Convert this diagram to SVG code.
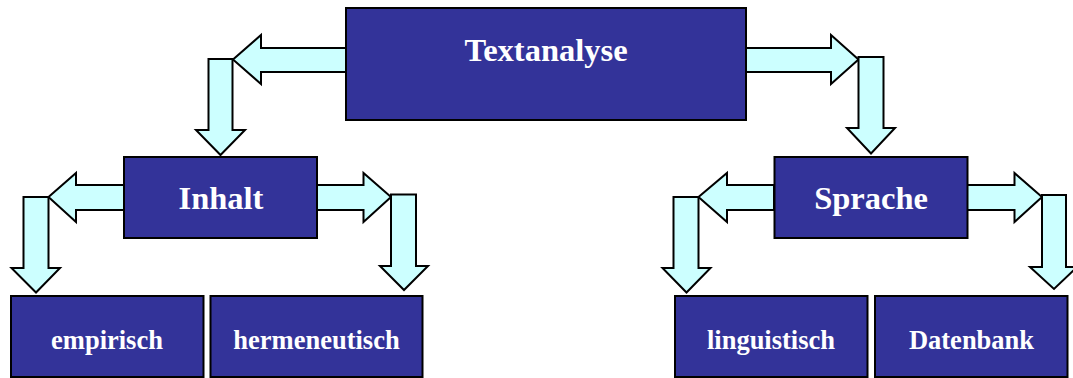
<svg xmlns="http://www.w3.org/2000/svg" width="1073" height="378" viewBox="0 0 1073 378">
<style>
.box{fill:#333399;stroke:#000;stroke-width:2}
.arr{fill:#CCFFFF;stroke:#000;stroke-width:2;stroke-linejoin:miter}
.t{font-family:"Liberation Serif","Times New Roman",serif;font-weight:bold;fill:#fff;text-anchor:middle}
.big{font-size:32.5px}
.small{font-size:26.5px}
</style>
<rect width="1073" height="378" fill="#fff"/>
<g id="connectors">
<polygon class="arr" points="346,48 261,48 261,35 233,59.5 261,84 261,72 346,72"/>
<polygon class="arr" points="208.5,59 232.5,59 232.5,130 245,130 220.5,155 196,130 208.5,130"/>
<polygon class="arr" points="746,48 831,48 831,35 858.5,59.5 831,84 831,72 746,72"/>
<polygon class="arr" points="858.5,57 883.5,57 883.5,128 895,128 871,153.5 847,128 858.5,128"/>
<polygon class="arr" points="124,185 76,185 76,173 48.5,197 76,222 76,210 124,210"/>
<polygon class="arr" points="23.5,197 48.5,197 48.5,268 60,268 36,292.5 11.5,268 23.5,268"/>
<polygon class="arr" points="317,185 363.5,185 363.5,173 391,197 363.5,222 363.5,210 317,210"/>
<polygon class="arr" points="391,194.5 416,194.5 416,266 428,266 404,290 380,266 391,266"/>
<polygon class="arr" points="774,185 727,185 727,173 698.5,197 727,222 727,210 774,210"/>
<polygon class="arr" points="673.5,197 698.5,197 698.5,268 710.5,268 686.5,292.5 662.5,268 673.5,268"/>
<polygon class="arr" points="967,185 1014.5,185 1014.5,173 1042,197 1014.5,222 1014.5,210 967,210"/>
<polygon class="arr" points="1042,195 1066,195 1066,267 1077,267 1054,289 1030,267 1042,267"/>
</g>
<g id="textanalyse">
<rect class="box" x="346" y="8" width="400" height="112"/>
<text class="t big" x="546" y="60.5">Textanalyse</text>
</g>
<g id="inhalt">
<rect class="box" x="124" y="157" width="193" height="81"/>
<text class="t big" x="221" y="208.5">Inhalt</text>
</g>
<g id="sprache">
<rect class="box" x="774.5" y="157" width="193" height="81"/>
<text class="t big" x="871" y="208.5">Sprache</text>
</g>
<g id="empirisch">
<rect class="box" x="11" y="296" width="192.5" height="81"/>
<text class="t small" x="107" y="348.5">empirisch</text>
</g>
<g id="hermeneutisch">
<rect class="box" x="210.5" y="296" width="212" height="81"/>
<text class="t small" x="316.5" y="348.5">hermeneutisch</text>
</g>
<g id="linguistisch">
<rect class="box" x="675" y="296" width="192.5" height="81"/>
<text class="t small" x="771" y="348.5">linguistisch</text>
</g>
<g id="datenbank">
<rect class="box" x="875" y="296" width="192.5" height="81"/>
<text class="t small" x="971.5" y="348.5">Datenbank</text>
</g>
</svg>
